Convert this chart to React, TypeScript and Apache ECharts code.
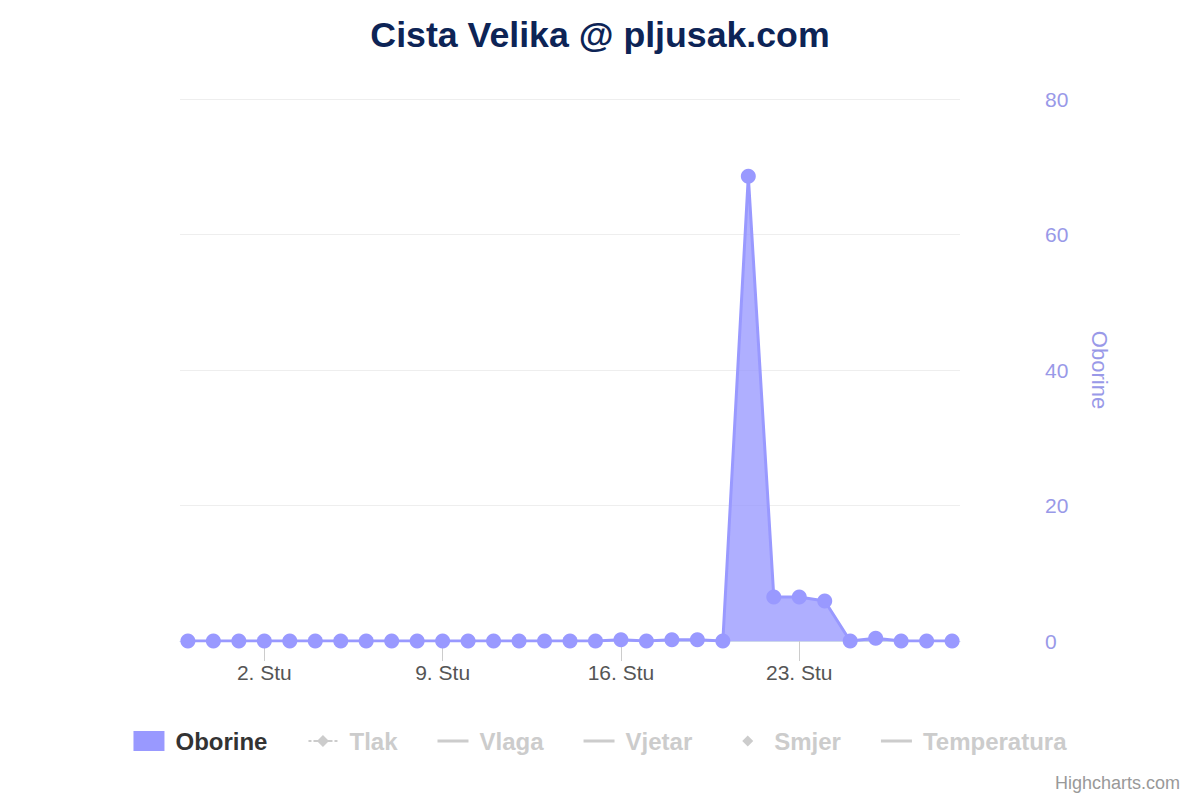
import React, { useEffect, useRef } from "react";
import * as echarts from "echarts";

const dayLabels = [
  "30. Lis", "31. Lis", "1. Stu", "2. Stu", "3. Stu", "4. Stu", "5. Stu", "6. Stu",
  "7. Stu", "8. Stu", "9. Stu", "10. Stu", "11. Stu", "12. Stu", "13. Stu", "14. Stu",
  "15. Stu", "16. Stu", "17. Stu", "18. Stu", "19. Stu", "20. Stu", "21. Stu", "22. Stu",
  "23. Stu", "24. Stu", "25. Stu", "26. Stu", "27. Stu", "28. Stu", "29. Stu",
];
const oborine = [
  0, 0, 0, 0, 0, 0, 0, 0, 0, 0, 0, 0, 0, 0, 0, 0,
  0, 0.2, 0, 0.2, 0.2, 0, 68.6, 6.5, 6.5, 5.9, 0, 0.4, 0, 0, 0,
];
const tickDayIndexes = [3, 10, 17, 24];
const yTicks = [0, 20, 40, 60, 80];
const hiddenSeriesNames = ["Tlak", "Vlaga", "Vjetar", "Smjer", "Temperatura"];

const FONT = "'Liberation Sans', Arial, sans-serif";
const SERIES_COLOR = "#9999ff";

const ICON_LINE = "path://M0,0L0,0ZM31,20L31,20ZM0,8.5L31,8.5L31,11.5L0,11.5Z";
const ICON_TLAK =
  "path://M0,0L0,0ZM31,20L31,20ZM1,9L4,9L4,11L1,11ZM6,9L11,9L11,11L6,11ZM20,9L25,9L25,11L20,11ZM27,9L30,9L30,11L27,11ZM15.5,4L21.5,10L15.5,16L9.5,10Z";
const ICON_SMJER = "path://M0,0L0,0ZM31,20L31,20ZM15.5,4.5L21,10L15.5,15.5L10,10Z";

export default function App() {
  const ref = useRef<HTMLDivElement>(null);
  useEffect(() => {
    if (!ref.current) return;
    const chart = echarts.init(ref.current, null, { renderer: "svg" });
    const hiddenSeries = hiddenSeriesNames.map((name) => ({
      name,
      type: "line",
      data: [] as number[][],
      symbol: "none",
    }));
    const selected: Record<string, boolean> = {};
    hiddenSeriesNames.forEach((n) => (selected[n] = false));
    const iconFor: Record<string, string> = {
      Tlak: ICON_TLAK,
      Vlaga: ICON_LINE,
      Vjetar: ICON_LINE,
      Smjer: ICON_SMJER,
      Temperatura: ICON_LINE,
    };
    chart.setOption({
      animation: false,
      backgroundColor: "#ffffff",
      title: {
        text: "Cista Velika @ pljusak.com",
        left: "center",
        top: 12,
        textStyle: { fontFamily: FONT, fontSize: 35.7, fontWeight: "bold", color: "#0d2456" },
      },
      grid: { left: 180, right: 240, top: 99, bottom: 159, containLabel: false },
      legend: {
        bottom: 42,
        left: "center",
        itemWidth: 31,
        itemHeight: 20,
        itemGap: 40,
        symbolKeepAspect: false,
        selectedMode: true,
        inactiveColor: "#cccccc",
        selected,
        textStyle: {
          fontFamily: FONT,
          fontSize: 24,
          fontWeight: "bold",
          color: "#333333",
          padding: [0, 0, 0, 6],
        },
        data: [
          { name: "Oborine", icon: "rect", itemStyle: { color: SERIES_COLOR } },
          ...hiddenSeriesNames.map((n) => ({ name: n, icon: iconFor[n] })),
        ],
      },
      xAxis: {
        type: "value",
        min: -0.31,
        max: 30.31,
        splitLine: { show: false },
        axisLine: { show: true, lineStyle: { color: "#ccd6eb", width: 1 } },
        axisTick: {
          show: true,
          customValues: tickDayIndexes,
          length: 20,
          lineStyle: { color: "#cccccc", width: 1 },
        },
        axisLabel: {
          customValues: tickDayIndexes,
          formatter: (v: number) => dayLabels[Math.round(v)] ?? "",
          margin: 21,
          fontFamily: FONT,
          fontSize: 21,
          color: "#555555",
        },
      },
      yAxis: {
        type: "value",
        position: "right",
        min: 0,
        max: 80,
        interval: 20,
        name: "Oborine",
        nameLocation: "middle",
        nameRotate: -90,
        nameGap: 128,
        nameTextStyle: { fontFamily: FONT, fontSize: 22, color: "#9999e8" },
        axisLine: { show: false },
        axisTick: { show: false },
        splitLine: { show: true, lineStyle: { color: "#eeeeee", width: 1 } },
        axisLabel: {
          margin: 85,
          fontFamily: FONT,
          fontSize: 21,
          color: "#9999e8",
          formatter: (v: number) => (yTicks.includes(v) ? String(v) : ""),
        },
      },
      series: [
        {
          name: "Oborine",
          type: "line",
          data: oborine.map((v, i) => [i, v]),
          symbol: "circle",
          symbolSize: 15,
          showAllSymbol: true,
          itemStyle: { color: SERIES_COLOR },
          lineStyle: { color: SERIES_COLOR, width: 3 },
          areaStyle: { color: SERIES_COLOR, opacity: 0.78 },
          emphasis: { disabled: true },
          z: 3,
        },
        ...hiddenSeries,
      ],
      graphic: [
        {
          type: "text",
          right: 20,
          bottom: 8,
          style: { text: "Highcharts.com", fontFamily: FONT, fontSize: 18, fill: "#999999" },
        },
      ],
    });
    return () => chart.dispose();
  }, []);
  return (
    <div
      ref={ref}
      style={{ position: "fixed", left: 0, top: 0, width: 1200, height: 800 }}
    />
  );
}
